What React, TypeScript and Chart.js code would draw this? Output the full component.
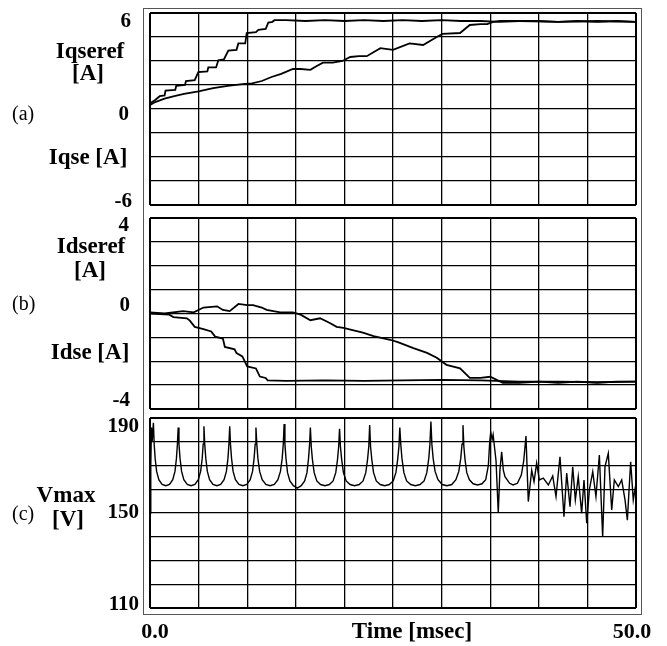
import React, { useEffect, useRef } from "react";
import { Chart, registerables } from "chart.js";

Chart.register(...registerables);

// ---------- shared time axis ----------
const timeMin = 0;
const timeMax = 50;
const timeStep = 5;

// ---------- panel (a): Iqseref / Iqse [A] ----------
const iqserefTime = [0, 0.5, 1.0, 1.5, 1.6, 2.6, 2.7, 3.6, 3.7, 4.6, 4.97, 5.9, 6.0, 6.8, 7.03, 7.6, 8.06, 8.9, 9.09, 9.8, 9.95, 10.9, 11.15, 11.9, 12.17, 12.6, 12.8, 14, 16, 18, 20, 22, 24, 26, 28, 30, 32, 34, 36, 38, 40, 42, 44, 46, 48, 50];
const iqserefValue = [0.35, 0.55, 0.8, 0.85, 1.15, 1.2, 1.45, 1.5, 1.75, 1.8, 2.3, 2.35, 2.6, 2.6, 3.05, 3.1, 3.65, 3.7, 4.1, 4.1, 4.75, 4.8, 4.95, 5.0, 5.4, 5.45, 5.55, 5.55, 5.5, 5.55, 5.5, 5.55, 5.5, 5.55, 5.5, 5.55, 5.5, 5.5, 5.45, 5.5, 5.5, 5.45, 5.5, 5.45, 5.5, 5.45];
const iqseTime = [0, 0.6, 1.5, 2.5, 3.5, 5, 6.5, 8, 9.5, 10.5, 11.5, 12.5, 13.5, 14.7, 15.5, 16.5, 17.2, 17.8, 18.8, 19.8, 20.6, 21.5, 22.3, 23.7, 25, 26.7, 28.1, 29.5, 30.1, 31.9, 32.9, 34.0, 34.7, 35.3, 36, 38, 42, 46, 50];
const iqseValue = [0.25, 0.45, 0.65, 0.8, 0.95, 1.1, 1.3, 1.45, 1.55, 1.6, 1.75, 2.0, 2.2, 2.5, 2.5, 2.45, 2.7, 2.9, 2.9, 3.0, 3.25, 3.3, 3.3, 3.8, 3.7, 4.1, 4.0, 4.5, 4.7, 4.75, 5.25, 5.3, 5.3, 5.45, 5.5, 5.5, 5.45, 5.5, 5.45];
const panelATicks = [6, 0, -6];

// ---------- panel (b): Idseref / Idse [A] ----------
const idseTime = [0, 1.5, 3.4, 4.5, 5.5, 6.9, 7.5, 8.2, 9.1, 10.0, 10.6, 11.5, 12.0, 13.4, 14.7, 15.5, 16.5, 17.5, 18.5, 19.2, 19.9, 21.9, 23, 24.7, 25.5, 27.1, 28.5, 29.5, 30.5, 31.9, 32.9, 34, 35, 36.3, 38, 40, 42, 44, 46, 48, 50];
const idseValue = [0.05, 0.0, 0.1, 0.05, 0.25, 0.3, 0.15, 0.1, 0.4, 0.35, 0.35, 0.25, 0.15, 0.05, 0.05, -0.05, -0.28, -0.2, -0.4, -0.56, -0.6, -0.8, -0.95, -1.1, -1.2, -1.45, -1.65, -1.85, -2.15, -2.3, -2.7, -2.7, -2.65, -2.9, -2.9, -2.85, -2.9, -2.85, -2.9, -2.85, -2.85];
const idserefTime = [0, 2.0, 2.4, 3.8, 4.1, 4.6, 5.5, 6.3, 6.7, 7.5, 7.7, 8.7, 8.9, 9.5, 10.0, 10.9, 11.3, 11.9, 12.1, 14, 18, 22, 26, 30, 34, 38, 42, 46, 50];
const idserefValue = [0, -0.05, -0.15, -0.2, -0.3, -0.56, -0.65, -0.75, -0.97, -1.05, -1.4, -1.5, -1.66, -1.8, -2.22, -2.3, -2.64, -2.7, -2.8, -2.82, -2.8, -2.82, -2.8, -2.78, -2.8, -2.85, -2.85, -2.88, -2.85];
const panelBTicks = [4, 0, -4];

// ---------- panel (c): Vmax [V] ----------
const vmaxTime = [
  0, 0.08, 0.15, 0.22, 0.35,
  0.43, 0.53, 0.68, 0.91, 1.24, 1.63, 2.01, 2.34, 2.57, 2.72, 2.82, 2.9,
  2.98, 3.09, 3.25, 3.48, 3.83, 4.23, 4.62, 4.97, 5.21, 5.37, 5.47, 5.55,
  5.63, 5.74, 5.90, 6.13, 6.48, 6.88, 7.27, 7.62, 7.86, 8.02, 8.12, 8.2,
  8.28, 8.39, 8.55, 8.79, 9.15, 9.55, 9.96, 10.31, 10.55, 10.71, 10.82, 10.9,
  10.99, 11.10, 11.28, 11.54, 11.92, 12.35, 12.79, 13.16, 13.42, 13.60, 13.71, 13.8,
  13.88, 13.99, 14.15, 14.39, 14.75, 15.15, 15.56, 15.91, 16.15, 16.31, 16.42, 16.5,
  16.59, 16.71, 16.89, 17.16, 17.55, 18.0, 18.45, 18.84, 19.11, 19.29, 19.41, 19.5,
  19.59, 19.72, 19.90, 20.18, 20.59, 21.05, 21.52, 21.92, 22.20, 22.38, 22.51, 22.6,
  22.69, 22.82, 23.00, 23.28, 23.69, 24.15, 24.62, 25.02, 25.30, 25.48, 25.61, 25.7,
  25.80, 25.92, 26.12, 26.40, 26.82, 27.3, 27.78, 28.20, 28.48, 28.68, 28.80, 28.9,
  29.00, 29.13, 29.33, 29.63, 30.06, 30.55, 31.05, 31.47, 31.77, 31.97, 32.10, 32.2,
  32.29, 32.41, 32.59, 32.86, 33.25, 33.7, 34.15, 34.54, 34.81, 34.95, 35.05, 35.2, 35.3, 35.6,
  35.83, 36.0, 36.18, 36.35, 36.52, 37.0, 37.35, 37.8, 38.2, 38.45, 38.68,
  38.92, 39.27, 39.51, 39.78, 40.05, 40.46, 40.98, 41.43, 41.77, 42.18, 42.59, 42.87, 43.21, 43.49, 43.76, 44.06, 44.41, 44.65, 44.93, 45.20,
  45.55, 45.88, 46.23, 46.57, 46.81, 47.15, 47.50, 47.77, 48.18, 48.53, 48.87, 49.11, 49.45, 49.72, 50
];
const vmaxValue = [
  150, 170, 186, 180, 188,
  179, 173, 167.5, 164, 162, 161.5, 162, 164, 167.5, 173, 179, 186,
  179, 173, 167.5, 164, 162, 161.5, 162, 164, 167.5, 173, 179, 186.5,
  179, 173, 167.5, 164, 162, 161.5, 162, 164, 167.5, 173, 179, 186.5,
  179, 173, 167.5, 164, 162, 161.5, 162, 164, 167.5, 173, 179, 186,
  179, 173, 167.5, 164, 162, 161.5, 162, 164, 167.5, 173, 179, 187.5,
  179, 173, 167, 163.5, 161.5, 160.5, 161.5, 163.5, 167, 173, 179, 186,
  178, 172.5, 167, 163.5, 162, 161.5, 162, 163.5, 167, 172.5, 178, 185.5,
  178, 172.5, 167, 163.5, 162, 161.5, 162, 163.5, 167, 172.5, 178, 187,
  178, 172.5, 167, 163.5, 162, 161.5, 162, 163.5, 167, 172.5, 178, 186,
  179, 173, 167, 163.5, 162, 161.5, 162, 163.5, 167, 173, 179, 188.5,
  179, 173, 167.5, 164, 162, 161.5, 162, 164, 167.5, 173, 179, 187,
  178, 172.5, 167, 164, 162.3, 161.8, 162.3, 164, 170, 180, 184, 181, 183, 172,
  150, 168, 175.8, 168, 165.3, 162.5, 161.8, 162.5, 166, 172, 182.4,
  154.8, 168, 163.2, 171, 163.9, 164.7, 161.8, 165.6, 156.9, 173.7, 148.4, 166.8, 152.7, 169.5, 155.5, 165.3, 149.9, 163.9, 145.7, 159.7,
  167.4, 156.9, 174.4, 140, 169.5, 175.1, 151.3, 163.9, 161.1, 163.9, 155.5, 147, 171.6, 155.5, 162.5
];
const panelCTicks = [190, 150, 110];

const SERIF = "'Liberation Serif', 'Times New Roman', serif";

type Label = {
  text: string;
  x: number;
  y?: number;
  value?: number;
  dy?: number;
  align: CanvasTextAlign;
  bold?: boolean;
  size: number;
  xValue?: number;
};

const labelPlugin = {
  id: "panelLabels",
  afterDraw(chart: any, _args: any, opts: any) {
    const ctx: CanvasRenderingContext2D = chart.ctx;
    const ys = chart.scales.y;
    const xs = chart.scales.x;
    ctx.save();
    ctx.fillStyle = "#000";
    ctx.textBaseline = "middle";
    (opts.labels as Label[]).forEach((l) => {
      ctx.font = `${l.bold === false ? "" : "bold "}${l.size}px ${SERIF}`;
      ctx.textAlign = l.align;
      const y = l.value !== undefined ? ys.getPixelForValue(l.value) + (l.dy || 0) : (l.y as number);
      const x = l.xValue !== undefined ? xs.getPixelForValue(l.xValue) + l.x : l.x;
      ctx.fillText(l.text, x, y);
    });
    ctx.restore();
  },
};

function lineData(t: number[], v: number[]) {
  return t.map((tt, i) => ({ x: tt, y: v[i] }));
}

function makeChart(
  canvas: HTMLCanvasElement,
  series: { t: number[]; v: number[] }[],
  yMin: number,
  yMax: number,
  yStep: number,
  padding: { left: number; right: number; top: number; bottom: number },
  labels: Label[],
  traceWidth: number
) {
  const edgeWidth = (min: number, max: number) => (c: any) => {
    const val = c.tick ? c.tick.value : null;
    return val === min || val === max ? 2 : 1.3;
  };
  return new Chart(canvas, {
    type: "line",
    data: {
      datasets: series.map((s) => ({
        data: lineData(s.t, s.v),
        borderColor: "#000",
        borderWidth: traceWidth,
        pointRadius: 0,
        tension: 0,
        fill: false,
      })),
    },
    options: {
      animation: false,
      responsive: false,
      maintainAspectRatio: false,
      layout: { padding },
      plugins: {
        legend: { display: false },
        tooltip: { enabled: false },
        panelLabels: { labels },
      } as any,
      scales: {
        x: {
          type: "linear",
          min: timeMin,
          max: timeMax,
          ticks: { display: false, stepSize: timeStep },
          grid: { color: "#000", lineWidth: edgeWidth(timeMin, timeMax), drawTicks: false },
          border: { display: false },
          afterFit: (s: any) => {
            s.height = 0;
          },
        },
        y: {
          type: "linear",
          min: yMin,
          max: yMax,
          ticks: { display: false, stepSize: yStep },
          grid: { color: "#000", lineWidth: edgeWidth(yMin, yMax), drawTicks: false },
          border: { display: false },
          afterFit: (s: any) => {
            s.width = 0;
          },
        },
      },
    },
    plugins: [labelPlugin],
  } as any);
}

export default function App() {
  const refA = useRef<HTMLCanvasElement>(null);
  const refB = useRef<HTMLCanvasElement>(null);
  const refC = useRef<HTMLCanvasElement>(null);

  useEffect(() => {
    const charts: Chart[] = [];
    charts.push(
      makeChart(
        refA.current!,
        [
          { t: iqserefTime, v: iqserefValue },
          { t: iqseTime, v: iqseValue },
        ],
        -6,
        6,
        1.5,
        { left: 150, right: 31, top: 13, bottom: 7 },
        [
          { text: String(panelATicks[0]), value: panelATicks[0], dy: 9, x: 131, align: "right", size: 21 },
          { text: String(panelATicks[1]), value: panelATicks[1], dy: 6, x: 129, align: "right", size: 21 },
          { text: String(panelATicks[2]), value: panelATicks[2], dy: -3, x: 132, align: "right", size: 21 },
          { text: "Iqseref", x: 90, y: 52, align: "center", size: 23 },
          { text: "[A]", x: 88, y: 74, align: "center", size: 23 },
          { text: "(a)", x: 12, y: 115, align: "left", size: 20, bold: false },
          { text: "Iqse [A]", x: 88, y: 158, align: "center", size: 23 },
        ],
        1.8
      )
    );
    charts.push(
      makeChart(
        refB.current!,
        [
          { t: idserefTime, v: idserefValue },
          { t: idseTime, v: idseValue },
        ],
        -4,
        4,
        1,
        { left: 150, right: 31, top: 6, bottom: 3 },
        [
          { text: String(panelBTicks[0]), value: panelBTicks[0], dy: 8, x: 129, align: "right", size: 21 },
          { text: String(panelBTicks[1]), value: panelBTicks[1], dy: -8, x: 130, align: "right", size: 21 },
          { text: String(panelBTicks[2]), value: panelBTicks[2], dy: -8, x: 130, align: "right", size: 21 },
          { text: "Idseref", x: 91, y: 35, align: "center", size: 23 },
          { text: "[A]", x: 90, y: 59, align: "center", size: 23 },
          { text: "(b)", x: 12, y: 93, align: "left", size: 20, bold: false },
          { text: "Idse [A]", x: 90, y: 141, align: "center", size: 23 },
        ],
        1.8
      )
    );
    charts.push(
      makeChart(
        refC.current!,
        [{ t: vmaxTime, v: vmaxValue }],
        110,
        190,
        10,
        { left: 150, right: 31, top: 6, bottom: 38 },
        [
          { text: String(panelCTicks[0]), value: panelCTicks[0], dy: 9, x: 139, align: "right", size: 21 },
          { text: String(panelCTicks[1]), value: panelCTicks[1], dy: 0, x: 139, align: "right", size: 21 },
          { text: String(panelCTicks[2]), value: panelCTicks[2], dy: -3, x: 139, align: "right", size: 21 },
          { text: "Vmax", x: 66, y: 84, align: "center", size: 23 },
          { text: "[V]", x: 68, y: 108, align: "center", size: 23 },
          { text: "(c)", x: 12, y: 103, align: "left", size: 20, bold: false },
          { text: timeMin.toFixed(1), xValue: timeMin, x: 5, y: 220, align: "center", size: 22 },
          { text: "Time [msec]", x: 412, y: 220, align: "center", size: 23 },
          { text: timeMax.toFixed(1), xValue: timeMax, x: -4, y: 220, align: "center", size: 22 },
        ],
        1.4
      )
    );
    return () => charts.forEach((c) => c.destroy());
  }, []);

  return (
    <div style={{ position: "absolute", left: 0, top: 0, width: 667, height: 646, background: "#fff", overflow: "hidden" }}>
      <div
        style={{
          position: "absolute",
          left: 143,
          top: 8,
          width: 499,
          height: 607,
          border: "1px solid #555",
          boxSizing: "border-box",
        }}
      />
      <canvas ref={refA} width={667} height={212} style={{ position: "absolute", left: 0, top: 0, width: 667, height: 212 }} />
      <canvas ref={refB} width={667} height={200} style={{ position: "absolute", left: 0, top: 212, width: 667, height: 200 }} />
      <canvas ref={refC} width={667} height={234} style={{ position: "absolute", left: 0, top: 412, width: 667, height: 234 }} />
    </div>
  );
}
